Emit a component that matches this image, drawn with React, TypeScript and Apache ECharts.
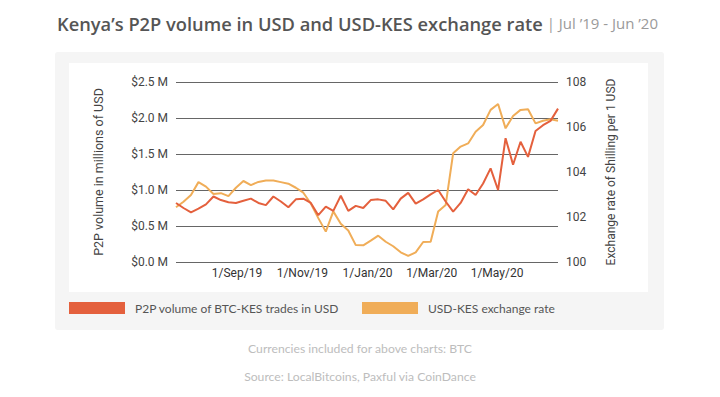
import React, { useEffect, useRef } from "react";
import * as echarts from "echarts";

const weeks: string[] = [
  "2019-07-06", "2019-07-13", "2019-07-20", "2019-07-27",
  "2019-08-03", "2019-08-10", "2019-08-17", "2019-08-24", "2019-08-31",
  "2019-09-07", "2019-09-14", "2019-09-21", "2019-09-28",
  "2019-10-05", "2019-10-12", "2019-10-19", "2019-10-26",
  "2019-11-02", "2019-11-09", "2019-11-16", "2019-11-23", "2019-11-30",
  "2019-12-07", "2019-12-14", "2019-12-21", "2019-12-28",
  "2020-01-04", "2020-01-11", "2020-01-18", "2020-01-25",
  "2020-02-01", "2020-02-08", "2020-02-15", "2020-02-22", "2020-02-29",
  "2020-03-07", "2020-03-14", "2020-03-21", "2020-03-28",
  "2020-04-04", "2020-04-11", "2020-04-18", "2020-04-25",
  "2020-05-02", "2020-05-09", "2020-05-16", "2020-05-23", "2020-05-30",
  "2020-06-06", "2020-06-13", "2020-06-20", "2020-06-27",
];

// P2P volume of BTC-KES trades, millions of USD
const volumeUSD: number[] = [
  0.82, 0.75, 0.69, 0.74, 0.8, 0.91, 0.86, 0.83, 0.82, 0.85,
  0.88, 0.82, 0.79, 0.91, 0.84, 0.76, 0.87, 0.88, 0.82, 0.65,
  0.77, 0.71, 0.92, 0.71, 0.78, 0.75, 0.86, 0.87, 0.85, 0.73,
  0.88, 0.96, 0.81, 0.87, 0.94, 1.0, 0.84, 0.7, 0.82, 1.01,
  0.93, 1.09, 1.3, 1.0, 1.72, 1.35, 1.67, 1.46, 1.82, 1.9,
  1.96, 2.13,
];

// USD-KES exchange rate
const usdKes: number[] = [
  102.43, 102.68, 102.98, 103.55, 103.35, 103.02, 103.06, 102.93, 103.3, 103.6,
  103.42, 103.56, 103.62, 103.62, 103.55, 103.48, 103.3, 103.08, 102.6, 101.95,
  101.35, 102.25, 101.7, 101.4, 100.75, 100.74, 100.95, 101.17, 100.9, 100.7,
  100.43, 100.27, 100.43, 100.89, 100.9, 102.24, 102.53, 104.83, 105.13, 105.27,
  105.79, 106.09, 106.76, 107.02, 105.94, 106.49, 106.76, 106.79, 106.16, 106.28,
  106.34, 106.28,
];

const seriesNames = ["P2P volume of BTC-KES trades in USD", "USD-KES exchange rate"];
const monthNames = ["Jan", "Feb", "Mar", "Apr", "May", "Jun", "Jul", "Aug", "Sep", "Oct", "Nov", "Dec"];

const RED = "#e4603d";
const ORANGE = "#f0ad58";
const UI_FONT = "Lato";
const TITLE_FONT = "Open Sans";
const AXIS_FONT = "Roboto";

export default function App() {
  const ref = useRef<HTMLDivElement>(null);

  useEffect(() => {
    if (!ref.current) return;
    const chart = echarts.init(ref.current, null, { renderer: "svg" });
    const ts = (s: string) => Date.parse(s + "T00:00:00Z");

    chart.setOption({
      animation: false,
      useUTC: true,
      backgroundColor: "#ffffff",
      graphic: [
        {
          type: "rect",
          z: -10,
          silent: true,
          shape: { x: 55, y: 52, width: 609, height: 278, r: 3 },
          style: { fill: "#f5f5f5" },
        },
        {
          type: "rect",
          z: -9,
          silent: true,
          shape: { x: 69, y: 63, width: 579, height: 229 },
          style: { fill: "#ffffff" },
        },
        {
          type: "text",
          x: 57,
          y: 23,
          style: {
            text: "{a|Kenya\u2019s P2P volume in USD and USD-KES exchange rate}{b| | Jul \u201919 - Jun \u201920}",
            verticalAlign: "middle",
            rich: {
              a: { fontFamily: TITLE_FONT, fontWeight: 600, fontSize: 18.3, fill: "#555555" },
              b: { fontFamily: TITLE_FONT, fontSize: 15, fill: "#9a9a9a" },
            },
          },
        },
        {
          type: "text",
          x: 360,
          y: 348,
          style: {
            text: "Currencies included for above charts: BTC",
            align: "center",
            verticalAlign: "middle",
            fontFamily: UI_FONT,
            fontSize: 12.2,
            fill: "#bdbdbd",
          },
        },
        {
          type: "text",
          x: 360,
          y: 376,
          style: {
            text: "Source: LocalBitcoins, Paxful via CoinDance",
            align: "center",
            verticalAlign: "middle",
            fontFamily: UI_FONT,
            fontSize: 12.2,
            fill: "#bdbdbd",
          },
        },
      ],
      legend: [
        {
          data: [seriesNames[0]],
          left: 69,
          top: 302,
          padding: 0,
          icon: "rect",
          itemWidth: 56,
          itemHeight: 12,
          textStyle: { fontFamily: UI_FONT, fontSize: 12, color: "#555555", padding: [0, 0, 0, 5] },
          selectedMode: false,
        },
        {
          data: [seriesNames[1]],
          left: 362,
          top: 302,
          padding: 0,
          icon: "rect",
          itemWidth: 56,
          itemHeight: 12,
          textStyle: { fontFamily: UI_FONT, fontSize: 12, color: "#555555", padding: [0, 0, 0, 5] },
          selectedMode: false,
        },
      ],
      grid: { left: 176, right: 162, top: 82, bottom: 135, containLabel: false },
      xAxis: {
        type: "time",
        min: ts(weeks[0]),
        max: ts(weeks[weeks.length - 1]),
        splitNumber: 5,
        axisLine: { show: false },
        axisTick: { show: false },
        splitLine: { show: false },
        axisLabel: {
          margin: 5,
          fontFamily: AXIS_FONT,
          fontSize: 12,
          color: "#333333",
          formatter: (v: number) => {
            const d = new Date(v);
            return `${d.getUTCDate()}/${monthNames[d.getUTCMonth()]}/${String(d.getUTCFullYear()).slice(2)}`;
          },
        },
      },
      yAxis: [
        {
          type: "value",
          min: 0,
          max: 2.5,
          interval: 0.5,
          name: "P2P volume in millions of USD",
          nameLocation: "middle",
          nameRotate: 90,
          nameGap: 71,
          nameTextStyle: { fontFamily: AXIS_FONT, fontSize: 12.5, color: "#444444" },
          axisLine: { show: false },
          axisTick: { show: false },
          axisLabel: {
            margin: 8,
            fontFamily: AXIS_FONT,
            fontSize: 12,
            color: "#444444",
            formatter: (v: number) => `$${v.toFixed(1)} M`,
          },
          splitLine: { show: true, lineStyle: { color: "#666666", width: 1 } },
        },
        {
          type: "value",
          min: 100,
          max: 108,
          interval: 2,
          position: "right",
          name: "Exchange rate of Shilling per 1 USD",
          nameLocation: "middle",
          nameRotate: 90,
          nameGap: 47,
          nameTextStyle: { fontFamily: AXIS_FONT, fontSize: 12, color: "#444444" },
          axisLine: { show: false },
          axisTick: { show: false },
          axisLabel: { margin: 8, fontFamily: AXIS_FONT, fontSize: 12, color: "#444444" },
          splitLine: { show: false },
        },
      ],
      series: [
        {
          name: seriesNames[0],
          type: "line",
          yAxisIndex: 0,
          data: weeks.map((w, i) => [ts(w), volumeUSD[i]]),
          symbol: "none",
          color: RED,
          lineStyle: { color: RED, width: 2 },
          z: 3,
        },
        {
          name: seriesNames[1],
          type: "line",
          yAxisIndex: 1,
          data: weeks.map((w, i) => [ts(w), usdKes[i]]),
          symbol: "none",
          color: ORANGE,
          lineStyle: { color: ORANGE, width: 2 },
          z: 2,
        },
      ],
    });

    return () => chart.dispose();
  }, []);

  return (
    <div
      ref={ref}
      style={{ position: "fixed", left: 0, top: 0, width: 720, height: 397 }}
    />
  );
}
